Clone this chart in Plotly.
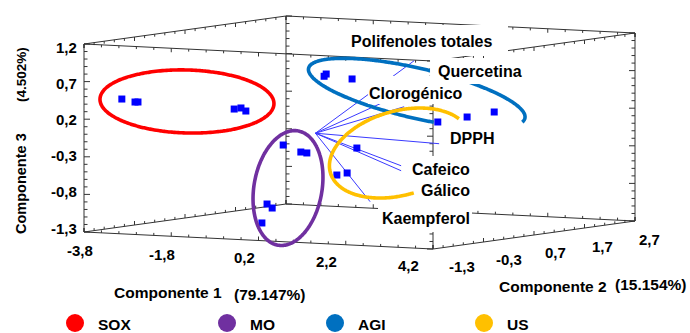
import numpy as np
import plotly.graph_objects as go

W, H = 690, 333

# ---------------- data ----------------
comp1_ticks = [-3.8, -1.8, 0.2, 2.2, 4.2]
comp2_ticks = [-1.3, -0.3, 0.7, 1.7, 2.7]
comp3_ticks = [-1.3, -0.8, -0.3, 0.2, 0.7, 1.2]
comp1_labels = ["-3,8", "-1,8", "0,2", "2,2", "4,2"]
comp2_labels = ["-1,3", "-0,3", "0,7", "1,7", "2,7"]
comp3_labels = ["-1,3", "-0,8", "-0,3", "0,2", "0,7", "1,2"]

groups = ["SOX", "MO", "AGI", "US"]
group_colors = ["#FF0000", "#7030A0", "#0070C0", "#FFC000"]

sox_c1 = [-3.28, -2.92, -2.91, -3.02, -2.98, -2.81]
sox_c2 = [-1.00, -1.05, -1.00, 1.00, 1.10, 1.05]
sox_c3 = [0.455, 0.430, 0.426, 0.143, 0.149, 0.118]

mo_c1 = [-0.16, 0.36, 0.44, 0.28, 0.34, 0.22]
mo_c2 = [-0.50, -0.60, -0.55, -1.20, -1.15, -1.25]
mo_c3 = [-0.115, -0.184, -0.199, -0.822, -0.878, -1.071]

agi_c1 = [-0.38, -0.39, 0.03, 0.49, 0.93, 1.32]
agi_c2 = [0.50, 0.55, 0.70, 2.00, 2.20, 2.40]
agi_c3 = [0.700, 0.725, 0.657, -0.023, 0.037, 0.096]

us_c1 = [0.95, 1.07, 1.19]
us_c2 = [0.00, -0.50, -0.40]
us_c3 = [-0.170, -0.479, -0.458]

variables = ["Polifenoles totales", "Quercetina", "Clorogénico", "DPPH",
             "Cafeico", "Gálico", "Kaempferol"]
load_c1 = [1.336, 1.334, 1.339, 1.331, 1.386, 1.444, 1.485]
load_c2 = [0.80, 1.00, 0.60, 1.30, 0.50, 0.45, -0.20]
load_c3 = [0.927, 0.603, 0.334, -0.223, -0.440, -0.500, -0.850]

title1, pct1 = "Componente 1", "(79.147%)"
title2, pct2 = "Componente 2", "(15.154%)"
title3, pct3 = "Componente 3", "(4.502%)"

# ---------------- projection (oblique 3D box -> page pixels) ----------------
ORIG = (84.0, 232.0)              # page position of the (min,min,min) corner
E1 = (43.625, 2.125)              # pixels per unit of Componente 1
E2 = (50.5, -7.0)                 # pixels per unit of Componente 2
E3 = (0.0, -75.2)                 # pixels per unit of Componente 3
x_lo, x_hi = comp1_ticks[0], comp1_ticks[-1]
y_lo, y_hi = comp2_ticks[0], comp2_ticks[-1]
z_lo, z_hi = comp3_ticks[0], comp3_ticks[-1]


def proj(c1, c2, c3):
    a = np.asarray(c1, float) - x_lo
    b = np.asarray(c2, float) - y_lo
    c = np.asarray(c3, float) - z_lo
    return (ORIG[0] + a * E1[0] + b * E2[0] + c * E3[0],
            ORIG[1] + a * E1[1] + b * E2[1] + c * E3[1])


FONT = "Arial, Liberation Sans, sans-serif"
fig = go.Figure()

# ---------------- box edges and ticks ----------------
bx, by = [], []


def seg(p, q):
    bx.extend([float(p[0]), float(q[0]), None])
    by.extend([float(p[1]), float(q[1]), None])


for yy in (y_lo, y_hi):
    for zz in (z_lo, z_hi):
        seg(proj(x_lo, yy, zz), proj(x_hi, yy, zz))
for xx in (x_lo, x_hi):
    for zz in (z_lo, z_hi):
        seg(proj(xx, y_lo, zz), proj(xx, y_hi, zz))
for xx in (x_lo, x_hi):
    for yy in (y_lo, y_hi):
        seg(proj(xx, yy, z_lo), proj(xx, yy, z_hi))

z_minor = np.arange(z_lo, z_hi + 1e-9, 0.1)
x_minor = np.arange(x_lo, x_hi + 1e-9, 0.4)
y_minor = np.arange(y_lo, y_hi + 1e-9, 0.2)

for xx, yy, d in [(x_lo, y_lo, 1), (x_lo, y_hi, 1), (x_hi, y_hi, -1), (x_hi, y_lo, -1)]:
    for v in z_minor:
        p = proj(xx, yy, v)
        L = 6 if np.isclose(v, comp3_ticks).any() else 3.5
        seg(p, (p[0] + d * L, p[1]))
for yy in (y_lo, y_hi):
    for zz in (z_lo, z_hi):
        d = -1 if zz == z_lo else 1
        for v in x_minor:
            p = proj(v, yy, zz)
            L = 4 if np.isclose(v, comp1_ticks).any() else 2.5
            seg(p, (p[0], p[1] + d * L))
for xx in (x_lo, x_hi):
    for zz in (z_lo, z_hi):
        d = -1 if zz == z_lo else 1
        for v in y_minor:
            p = proj(xx, v, zz)
            L = 4 if np.isclose(v, comp2_ticks).any() else 2.5
            seg(p, (p[0], p[1] + d * L))

fig.add_trace(go.Scatter(x=bx, y=by, mode="lines", hoverinfo="skip",
                         line=dict(color="#333333", width=1)))

# ---------------- loading vectors ----------------
ox, oy = proj(0, 0, 0)
vx, vy = [], []
for i in range(len(variables)):
    ex_, ey_ = proj(load_c1[i], load_c2[i], load_c3[i])
    vx.extend([float(ox), float(ex_), None])
    vy.extend([float(oy), float(ey_), None])
fig.add_trace(go.Scatter(x=vx, y=vy, mode="lines", hoverinfo="skip",
                         line=dict(color="#3a3aff", width=1)))

# ---------------- scores ----------------
score_sets = [(sox_c1, sox_c2, sox_c3), (mo_c1, mo_c2, mo_c3),
              (agi_c1, agi_c2, agi_c3), (us_c1, us_c2, us_c3)]
centroids = []
for g, (a, b, c) in zip(groups, score_sets):
    px, py = proj(a, b, c)
    centroids.append((float(np.mean(px)), float(np.mean(py))))
    fig.add_trace(go.Scatter(x=px, y=py, mode="markers", name=g, hoverinfo="skip",
                             marker=dict(symbol="square", size=7, color="#0000FF",
                                         line=dict(width=0))))

# ---------------- hand-drawn group ellipses (style: offset, axes, rotation, arc) ----------------
ell_style = [
    dict(off=(1.0, -3.7), a=87, b=31.5, rot=1.6, t0=0, t1=360),
    dict(off=(6.0, 7.2), a=58, b=34, rot=100, t0=0, t1=360),
    dict(off=(16.5, -3.5), a=111, b=25, rot=13, t0=78, t1=370),
    dict(off=(53.0, -12.3), a=72.3, b=42.1, rot=-15.7, t0=88, t1=336),
]
for (cx, cy), st, col in zip(centroids, ell_style, group_colors):
    t = np.radians(np.linspace(st["t0"], st["t1"], 240))
    r = np.radians(st["rot"])
    ux, uy = np.cos(r), np.sin(r)
    nx, ny = -np.sin(r), np.cos(r)
    X = cx + st["off"][0] + st["a"] * np.cos(t) * ux + st["b"] * np.sin(t) * nx
    Y = cy + st["off"][1] + st["a"] * np.cos(t) * uy + st["b"] * np.sin(t) * ny
    fig.add_trace(go.Scatter(x=X, y=Y, mode="lines", hoverinfo="skip",
                             line=dict(color=col, width=3.6, shape="spline")))

# ---------------- variable labels with white boxes ----------------
lab_off = [(7.4, -19.2), (55.9, -12.7), (11.9, -13.7), (32.9, -5.7),
           (39.4, 3.3), (44.4, 19.3), (55.4, 17.3)]
lab_box = [(-73.5, 86.5, -16.5, 14.5), (-50, 45, -13, 13), (-48, 46, -17, 11),
           (-26, 25, -13, 12), (-31.5, 31.5, -13, 9), (-27.5, 26.5, -12, 12),
           (-47.5, 46.5, -17, 13)]
shapes, annots = [], []
for i, name in enumerate(variables):
    ex_, ey_ = proj(load_c1[i], load_c2[i], load_c3[i])
    lx, ly = float(ex_) + lab_off[i][0], float(ey_) + lab_off[i][1]
    b = lab_box[i]
    shapes.append(dict(type="rect", xref="x", yref="y", x0=lx + b[0], x1=lx + b[1],
                       y0=ly + b[2], y1=ly + b[3], fillcolor="white",
                       line=dict(width=0), layer="above"))
    annots.append(dict(x=lx, y=ly, text=name, showarrow=False, xanchor="center",
                       yanchor="middle", font=dict(family=FONT, size=16,
                                                   color="#000000", weight="bold")))

# ---------------- tick labels ----------------
tick_font = dict(family=FONT, size=15, color="#000000", weight="bold")
p0 = proj(x_lo, y_lo, z_lo)
for v, t in zip(comp1_ticks, comp1_labels):
    p = proj(v, y_lo, z_lo)
    annots.append(dict(x=float(p0[0] + 0.94 * (p[0] - p0[0]) - 4),
                       y=float(p0[1] + 0.94 * (p[1] - p0[1]) + 18),
                       text=t, showarrow=False, font=tick_font))
q0 = proj(x_hi, y_lo, z_lo)
for v, t in zip(comp2_ticks, comp2_labels):
    p = proj(x_hi, v, z_lo)
    annots.append(dict(x=float(q0[0] + 0.93 * (p[0] - q0[0]) + 29),
                       y=float(q0[1] + 0.93 * (p[1] - q0[1]) + 17),
                       text=t, showarrow=False, font=tick_font))
r0 = proj(x_lo, y_lo, z_hi)
for v, t in zip(comp3_ticks, comp3_labels):
    p = proj(x_lo, y_lo, v)
    annots.append(dict(x=float(p[0]) - 5, y=float(r0[1] + 0.963 * (p[1] - r0[1]) + 3),
                       text=t, showarrow=False, xanchor="right", font=tick_font))

# ---------------- axis titles ----------------
tfont = dict(family=FONT, size=15.5, color="#000000", weight="bold")
annots += [
    dict(x=167.5, y=292, text=title1, showarrow=False, font=tfont),
    dict(x=270, y=294, text=pct1, showarrow=False, font=dict(tfont, size=15.5)),
    dict(x=553, y=286, text=title2, showarrow=False, font=tfont),
    dict(x=651, y=284, text=pct2, showarrow=False, font=dict(tfont, size=15.5)),
    dict(x=21, y=184, text=title3, showarrow=False, textangle=-90, font=dict(tfont, size=14.5)),
    dict(x=21, y=75, text=pct3, showarrow=False, textangle=-90, font=dict(tfont, size=13.5)),
]

# ---------------- manual legend ----------------
leg_x = [75, 227, 335, 484]
fig.add_trace(go.Scatter(x=leg_x, y=[323] * 4, mode="markers", hoverinfo="skip",
                         marker=dict(symbol="circle", size=18, color=group_colors,
                                     line=dict(width=0))))
for xx, g in zip(leg_x, groups):
    annots.append(dict(x=xx + 21, y=324, text=g, showarrow=False, xanchor="left",
                       font=dict(tfont, size=15.5)))

fig.update_layout(
    width=W, height=H, autosize=False, showlegend=False,
    margin=dict(l=0, r=0, t=0, b=0, pad=0),
    paper_bgcolor="white", plot_bgcolor="white",
    xaxis=dict(range=[0, W], visible=False, fixedrange=True),
    yaxis=dict(range=[H, 0], visible=False, fixedrange=True),
    shapes=shapes, annotations=annots,
)
fig.write_html("out.html")
